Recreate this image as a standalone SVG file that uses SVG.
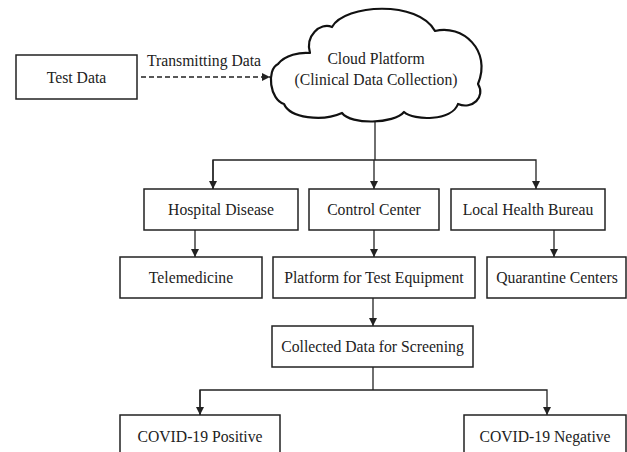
<svg xmlns="http://www.w3.org/2000/svg" width="627" height="452" viewBox="0 0 627 452">
<style>
.box{fill:#fff;stroke:#222;stroke-width:1.5}
.cloud{fill:#fff;stroke:#111;stroke-width:2.2;stroke-linejoin:round}
.lbl{font-family:'Liberation Serif','Times New Roman',Tinos,'DejaVu Serif',serif;font-size:15.7px;fill:#222;text-anchor:middle}
.ln{fill:none;stroke:#222;stroke-width:1.3}
.dash{stroke-dasharray:5 3}
</style>
<defs>
<marker id="ah" viewBox="0 0 10 10" refX="10" refY="5" markerWidth="8" markerHeight="8" markerUnits="userSpaceOnUse" orient="auto">
<path d="M0,0 L10,5 L0,10 z" fill="#222"/>
</marker>
</defs>
<rect width="627" height="452" fill="#fff"/>
<g id="connectors">
<line class="ln dash" x1="141" y1="77" x2="270" y2="77" marker-end="url(#ah)"/>
<text class="lbl" x="204" y="66">Transmitting Data</text>
<polyline class="ln" points="375,120 375,160"/>
<polyline class="ln" points="213,189 213,160 536,160 536,189" marker-end="url(#ah)"/>
<line class="ln" x1="213" y1="160" x2="213" y2="189" marker-end="url(#ah)"/>
<line class="ln" x1="374" y1="160" x2="374" y2="189" marker-end="url(#ah)"/>
<line class="ln" x1="195" y1="230" x2="195" y2="257" marker-end="url(#ah)"/>
<line class="ln" x1="374" y1="230" x2="374" y2="257" marker-end="url(#ah)"/>
<line class="ln" x1="554" y1="230" x2="554" y2="257" marker-end="url(#ah)"/>
<line class="ln" x1="373" y1="298" x2="373" y2="326" marker-end="url(#ah)"/>
<polyline class="ln" points="373,367 373,390"/>
<polyline class="ln" points="200,415 200,390 547,390 547,415" marker-end="url(#ah)"/>
<line class="ln" x1="200" y1="390" x2="200" y2="415" marker-end="url(#ah)"/>
</g>
<g id="test-data">
<rect class="box" x="16" y="55" width="121" height="44"/>
<text class="lbl" x="76.5" y="82.5">Test Data</text>
</g>
<g id="cloud-platform">
<path class="cloud" d="M310,53 C305,36 320,22 332,27 C345,4 418,0 435,31 C462,24 492,50 478,84 C486,97 472,110 458,104 C452,121 414,121 404,112 C394,124 351,125 342,113 C322,122 290,118 284,104 C270,100 266,70 278,64 C285,55 300,52 310,53 Z"/>
<text class="lbl" x="376" y="64">Cloud Platform</text>
<text class="lbl" x="376" y="85">(Clinical Data Collection)</text>
</g>
<g id="hospital-disease">
<rect class="box" x="144" y="189" width="154" height="41"/>
<text class="lbl" x="221" y="214.5">Hospital Disease</text>
</g>
<g id="control-center">
<rect class="box" x="309" y="189" width="130" height="41"/>
<text class="lbl" x="374" y="214.5">Control Center</text>
</g>
<g id="local-health-bureau">
<rect class="box" x="451" y="189" width="154" height="41"/>
<text class="lbl" x="528" y="214.5">Local Health Bureau</text>
</g>
<g id="telemedicine">
<rect class="box" x="120" y="257" width="142" height="41"/>
<text class="lbl" x="191" y="283">Telemedicine</text>
</g>
<g id="platform-test-equipment">
<rect class="box" x="273" y="257" width="202" height="41"/>
<text class="lbl" x="374" y="283">Platform for Test Equipment</text>
</g>
<g id="quarantine-centers">
<rect class="box" x="487" y="257" width="139" height="41"/>
<text class="lbl" x="557" y="283">Quarantine Centers</text>
</g>
<g id="collected-data">
<rect class="box" x="272" y="326" width="201" height="41"/>
<text class="lbl" x="372.5" y="352">Collected Data for Screening</text>
</g>
<g id="covid-positive">
<rect class="box" x="120" y="415" width="160" height="50"/>
<text class="lbl" x="200" y="441.5">COVID-19 Positive</text>
</g>
<g id="covid-negative">
<rect class="box" x="464" y="415" width="162" height="50"/>
<text class="lbl" x="545" y="441.5">COVID-19 Negative</text>
</g>
</svg>
